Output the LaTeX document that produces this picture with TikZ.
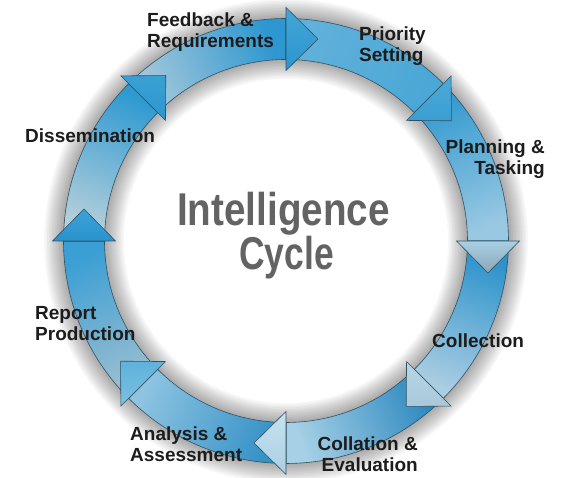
\documentclass[tikz,border=0pt]{standalone}
\usepackage{fontspec}
\setmainfont{Liberation Sans}
\definecolor{outl}{HTML}{34505E}
\definecolor{lbltxt}{HTML}{1C1C1C}
\definecolor{titlegray}{HTML}{636363}
% shafts: E = colour at arrow end, M = middle, S = start
\definecolor{aE}{HTML}{2C97D0}\definecolor{aM}{HTML}{6DB4D9}\definecolor{aS}{HTML}{A8C9DA}
\definecolor{bE}{HTML}{4AA7D6}\definecolor{bM}{HTML}{93C7E1}\definecolor{bS}{HTML}{62B1DA}
\definecolor{cE}{HTML}{98C8E2}\definecolor{cM}{HTML}{6DB6DD}\definecolor{cS}{HTML}{3199CF}
\definecolor{dE}{HTML}{AACDE2}\definecolor{dM}{HTML}{6CB5DB}\definecolor{dS}{HTML}{2A92CB}
\definecolor{eE}{HTML}{A6D0E6}\definecolor{eM}{HTML}{5DAAD6}\definecolor{eS}{HTML}{2786BE}
\definecolor{fE}{HTML}{8EC4E2}\definecolor{fM}{HTML}{6AB0D6}\definecolor{fS}{HTML}{3591C6}
\definecolor{gE}{HTML}{3A9FD4}\definecolor{gM}{HTML}{6AB2D8}\definecolor{gS}{HTML}{9DBFD0}
\definecolor{hE}{HTML}{2F9AD1}\definecolor{hM}{HTML}{72B5D8}\definecolor{hS}{HTML}{B5CFDB}
% heads: T = top, B = bottom
\definecolor{aT}{HTML}{45A6D7}\definecolor{aB}{HTML}{2A95CE}
\definecolor{bT}{HTML}{4CA9D8}\definecolor{bB}{HTML}{3A9ED2}
\definecolor{cT}{HTML}{A8CFE4}\definecolor{cB}{HTML}{8AA6B6}
\definecolor{dT}{HTML}{B8D6E6}\definecolor{dB}{HTML}{A9C8DA}
\definecolor{eT}{HTML}{C8E2F0}\definecolor{eB}{HTML}{A9CFE3}
\definecolor{fT}{HTML}{5FB2DC}\definecolor{fB}{HTML}{7BC0E2}
\definecolor{gT}{HTML}{3CA3D8}\definecolor{gB}{HTML}{2A93CC}
\definecolor{hT}{HTML}{3AA0D4}\definecolor{hB}{HTML}{2D96CE}
\begin{document}
\begin{tikzpicture}[x=1pt,y=1pt,
  edge/.style={draw=outl, line width=0.6pt},
  lbl/.style={font=\fontsize{19}{21}\selectfont\bfseries, text=lbltxt, inner sep=0pt},
  titletext/.style={font=\fontsize{46}{50}\selectfont\bfseries, text=titlegray, inner sep=0pt}]
\useasboundingbox (0,0) rectangle (571,478);
\fill[white] (0,0) rectangle (571,478);
\coordinate (C) at (286,237);
\begin{scope}[shift={(C)}]
  % soft shadow round the ring
  \foreach \k [evaluate=\k as \w using 41+3*\k] in {1,...,13}
    \draw[black, opacity=0.026, line width=\w pt] (0,0) circle (202);
  % shafts
  \foreach \e/\n [evaluate=\e as \s using \e+45, evaluate=\e as \a using \e+22.5-180] in
      {90/a,45/b,0/c,-45/d,-90/e,-135/f,180/g,135/h}
    \path[edge, top color=\n E, middle color=\n M, bottom color=\n S, shading angle=\a]
      (\e:181.5) arc[start angle=\e, end angle=\s, radius=181.5]
      -- (\s:222.5) arc[start angle=\s, end angle=\e, radius=222.5] -- cycle;
  % heads
  \foreach \e/\n [evaluate=\e as \t using \e-9] in
      {90/a,45/b,0/c,-45/d,-90/e,-135/f,180/g,135/h}
    \path[edge, top color=\n T, bottom color=\n B]
      (\e:170.5) -- (\e:233.5) -- (\t:204.5) -- cycle;
\end{scope}
% labels
\node[lbl, align=left, anchor=north west] (feedback) at (147,465.5) {Feedback \&\\Requirements};
\node[lbl, align=left, anchor=north west] (priority) at (359,451) {Priority\\Setting};
\node[lbl, align=right, anchor=north east] (planning) at (545,338) {Planning \&\\Tasking};
\node[lbl, anchor=base west] (collection) at (432,130) {Collection};
\node[lbl, align=right, anchor=north east] (collation) at (418,41.5) {Collation \&\\Evaluation};
\node[lbl, align=left, anchor=north west] (analysis) at (130,51.3) {Analysis \&\\Assessment};
\node[lbl, align=left, anchor=north west] (report) at (35,172) {Report\\Production};
\node[lbl, anchor=base west] (dissem) at (25,335) {Dissemination};
% title
\node[titletext, anchor=base, text depth=0pt] (title1) at (283.5,252.8) {\scalebox{0.84}[1]{Intelligence}};
\node[titletext, anchor=base] (title2) at (286.5,208.8) {\scalebox{0.77}[1]{Cycle}};
\end{tikzpicture}
\end{document}
